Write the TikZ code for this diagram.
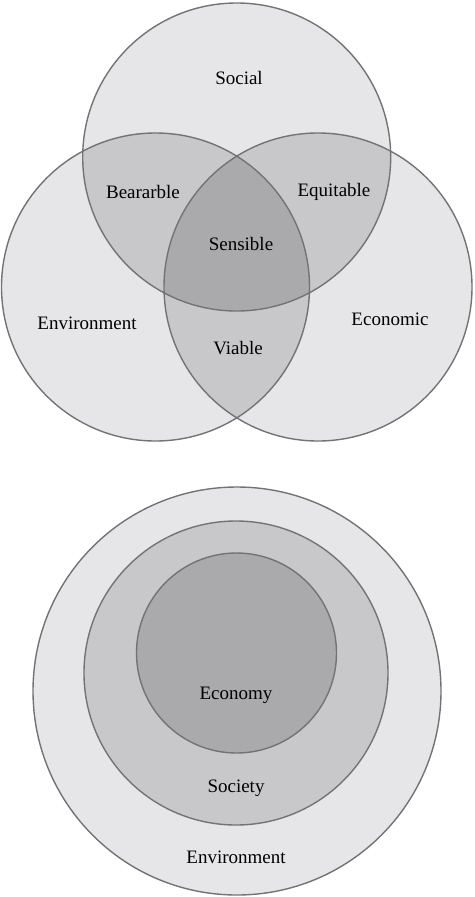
\documentclass[tikz,border=0pt]{standalone}
\usepackage{fontspec}
\setmainfont{Liberation Serif}
\definecolor{ringline}{HTML}{737375}
\definecolor{shadeA}{HTML}{E6E6E8}
\definecolor{shadeB}{HTML}{C8C8CA}
\definecolor{shadeC}{HTML}{AAAAAD}
\tikzset{
	ring/.style = {draw=ringline, line width=1.4pt},
	lbl/.style = {inner sep=0pt, text=black,
		font=\fontsize{19}{22}\selectfont},
	vr/.style = {radius=154pt}% rayon des cercles du venn
}
\begin{document}
\begin{tikzpicture}[x=1pt,y=-1pt]
	\useasboundingbox (0,0) rectangle (474,897);
	% venn a trois cercles
	\coordinate (soc) at (236.7,157);
	\coordinate (env) at (155.5,287);
	\coordinate (eco) at (318,287);
	\fill[shadeA] (soc) circle[vr] (env) circle[vr] (eco) circle[vr];
	\begin{scope}
		\clip (soc) circle[vr];
		\fill[shadeB] (env) circle[vr] (eco) circle[vr];
	\end{scope}
	\begin{scope}
		\clip (env) circle[vr];
		\fill[shadeB] (eco) circle[vr];
	\end{scope}
	\begin{scope}
		\clip (soc) circle[vr];
		\clip (env) circle[vr];
		\fill[shadeC] (eco) circle[vr];
	\end{scope}
	\draw[ring] (soc) circle[vr] (env) circle[vr] (eco) circle[vr];
	\node[lbl] (social) at (239,78) {Social};
	\node[lbl] (bearable) at (143,192) {Beararble};
	\node[lbl] (equitable) at (334,192) {Equitable};
	\node[lbl] (sensible) at (241,244) {Sensible};
	\node[lbl] (environ) at (87,323) {Environment};
	\node[lbl] (economic) at (390,319) {Economic};
	\node[lbl] (viable) at (238,348) {Viable};
	% cercles emboites
	\draw[ring, fill=shadeA] (237,691) circle[radius=204pt];
	\draw[ring, fill=shadeB] (236,673) circle[radius=152pt];
	\draw[ring, fill=shadeC] (236.5,653) circle[radius=100pt];
	\node[lbl] (economy) at (236,695) {Economy};
	\node[lbl] (society) at (236,788) {Society};
	\node[lbl] (environment) at (236,857) {Environment};
\end{tikzpicture}
\end{document}
